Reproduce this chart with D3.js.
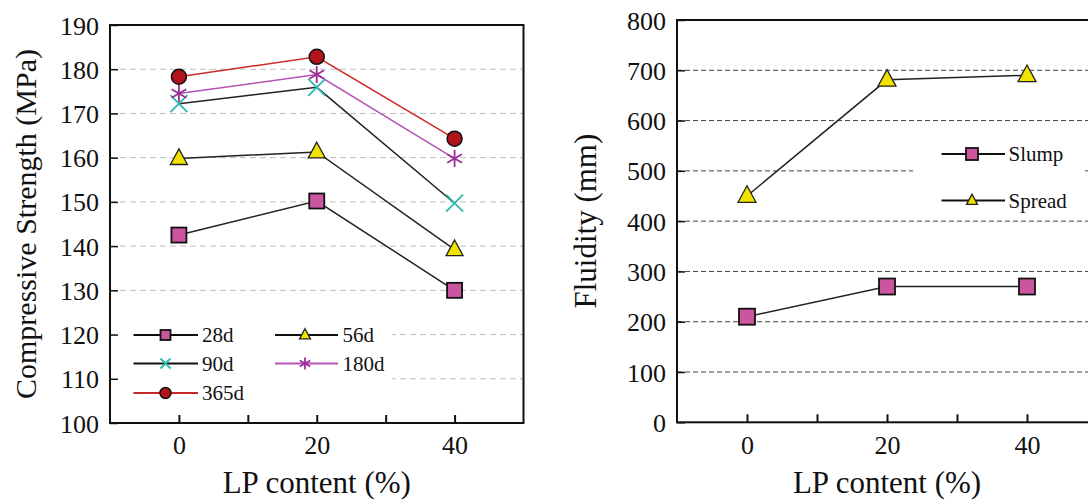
<!DOCTYPE html>
<html>
<head>
<meta charset="utf-8">
<script src="https://cdn.jsdelivr.net/npm/d3@7"></script>
<style>
  html, body { margin: 0; padding: 0; background: #fff; }
  svg { display: block; }
</style>
</head>
<body>
<svg id="chart" width="1088" height="499"></svg>
<script>
// ---------- DATA ----------
const lpContent = [0, 20, 40];
const xTicks = [0, 10, 20, 30, 40];
const xTickLabels = [0, 20, 40];

const strengthTicks = [100, 110, 120, 130, 140, 150, 160, 170, 180, 190];
const strengthGrid = [110, 120, 130, 140, 150, 160, 170, 180];
const ages = ["28d", "56d", "90d", "180d", "365d"];
const cs28 = [142.5, 150.2, 130.0];
const cs56 = [159.8, 161.3, 139.2];
const cs90 = [172.2, 175.9, 149.7];
const cs180 = [174.5, 178.8, 159.8];
const cs365 = [178.3, 182.8, 164.3];

const fluidityTicks = [0, 100, 200, 300, 400, 500, 600, 700, 800];
const fluidityGrid = [100, 200, 300, 400, 500, 600, 700];
const fluidNames = ["Slump", "Spread"];
const slump = [210, 270, 270];
const spread = [450, 681, 690];

// ---------- SETUP ----------
const SERIF = "Liberation Serif";
const svg = d3.select("#chart");
const FONT_TICK = 26, FONT_TITLE = 31, FONT_LEG = 21;

function txt(sel) {
  return sel.attr("font-family", SERIF).style("font-family", `'${SERIF}'`).attr("fill", "#111");
}

const sym = {
  square: (g, s, fill) => g.append("rect").attr("x", -s/2).attr("y", -s/2).attr("width", s).attr("height", s)
      .attr("fill", fill).attr("stroke", "#111").attr("stroke-width", 1.8),
  triangle: (g, s, fill) => {
    const h = s * 0.92;
    g.append("path").attr("d", `M0,${-h*0.62}L${s/2},${h*0.38}L${-s/2},${h*0.38}Z`)
      .attr("fill", fill).attr("stroke", "#222").attr("stroke-width", 1.3);
  },
  circle: (g, s, fill) => g.append("circle").attr("r", s/2).attr("fill", fill).attr("stroke", "#111").attr("stroke-width", 1.5),
  cross: (g, s, fill) => {
    const r = s/2;
    g.append("path").attr("d", `M${-r},${-r}L${r},${r}M${-r},${r}L${r},${-r}`)
      .attr("stroke", fill).attr("stroke-width", 1.8).attr("fill", "none");
  },
  asterisk: (g, s, fill) => {
    const r = s/2, a = r * Math.cos(Math.PI/6), b = r * 0.5;
    g.append("path").attr("d", `M0,${-r}L0,${r}M${-a},${-b}L${a},${b}M${-a},${b}L${a},${-b}`)
      .attr("stroke", fill).attr("stroke-width", 1.8).attr("fill", "none");
  }
};

function drawGrid(g, y, gridVals, gridColor, gridDash, frame) {
  g.append("g").selectAll("line").data(gridVals).join("line")
    .attr("x1", frame.x0).attr("x2", frame.x1)
    .attr("y1", d => y(d)).attr("y2", d => y(d))
    .attr("stroke", gridColor).attr("stroke-width", 1).attr("stroke-dasharray", gridDash);
}

function finishAxes(g, x, y, yTicks, frame) {
  const xa = g.append("g").attr("transform", `translate(0,${frame.y1})`)
    .call(d3.axisBottom(x).tickValues(xTicks).tickSize(-8).tickPadding(13)
      .tickFormat(d => xTickLabels.includes(d) ? d : ""));
  xa.select(".domain").remove();
  xa.selectAll("line").attr("stroke", "#111").attr("stroke-width", 2);
  txt(xa.selectAll("text")).attr("font-size", FONT_TICK);

  const ya = g.append("g").attr("transform", `translate(${frame.x0},0)`)
    .call(d3.axisLeft(y).tickValues(yTicks).tickSize(-8).tickPadding(11));
  ya.select(".domain").remove();
  ya.selectAll("line").attr("stroke", "#111").attr("stroke-width", 1.5);
  txt(ya.selectAll("text")).attr("font-size", FONT_TICK).attr("dy", "0.35em");

  g.append("rect").attr("x", frame.x0).attr("y", frame.y0)
    .attr("width", frame.x1 - frame.x0).attr("height", frame.y1 - frame.y0)
    .attr("fill", "none").attr("stroke", "#111").attr("stroke-width", 2);
}

const lineGen = (x, y) => d3.line().x((d, i) => x(lpContent[i])).y(d => y(d));

// ---------- LEFT CHART ----------
const L = { x0: 110, x1: 523.5, y0: 25, y1: 423 };
const xL = d3.scaleLinear().domain([-10, 50]).range([L.x0, L.x1]);
const yL = d3.scaleLinear().domain([100, 190]).range([L.y1, L.y0]);
const gL = svg.append("g");
drawGrid(gL, yL, strengthGrid, "#bdbdbd", "6,4", L);

const seriesL = [
  { name: ages[0], vals: cs28, line: "#222", mk: "square", fill: "#cc559f", size: 15, lsize: 10, lline: "#111" },
  { name: ages[1], vals: cs56, line: "#222", mk: "triangle", fill: "#f2e200", size: 17, lsize: 11, lline: "#111" },
  { name: ages[2], vals: cs90, line: "#222", mk: "cross", fill: "#2db8b0", size: 17, lsize: 10, lline: "#111" },
  { name: ages[3], vals: cs180, line: "#b552b5", mk: "asterisk", fill: "#9b2f98", size: 17, lsize: 12, lline: "#b552b5" },
  { name: ages[4], vals: cs365, line: "#d02a2a", mk: "circle", fill: "#b3141c", size: 15, lsize: 11, lline: "#c8282a" }
];

seriesL.forEach(s => {
  gL.append("path").datum(s.vals).attr("d", lineGen(xL, yL))
    .attr("fill", "none").attr("stroke", s.line).attr("stroke-width", 1.5);
});
seriesL.forEach(s => {
  s.vals.forEach((v, i) => {
    const g = gL.append("g").attr("transform", `translate(${xL(lpContent[i])},${yL(v)})`);
    sym[s.mk](g, s.size, s.fill);
  });
});

// legend left
gL.append("rect").attr("x", L.x0 + 2).attr("y", 316).attr("width", 392 - L.x0 - 2).attr("height", 94).attr("fill", "#fff");
const legPos = [
  { lx0: 133.5, lx1: 198, mx: 165.5, tx: 202, y: 335 },
  { lx0: 275, lx1: 338, mx: 305, tx: 342.5, y: 335 },
  { lx0: 133.5, lx1: 198, mx: 165.5, tx: 202, y: 363.5 },
  { lx0: 275, lx1: 338, mx: 305, tx: 342.5, y: 363.5 },
  { lx0: 133.5, lx1: 198, mx: 165.5, tx: 202, y: 393 }
];
seriesL.forEach((s, i) => {
  const p = legPos[i];
  gL.append("line").attr("x1", p.lx0).attr("x2", p.lx1).attr("y1", p.y).attr("y2", p.y)
    .attr("stroke", s.lline).attr("stroke-width", 2);
  const g = gL.append("g").attr("transform", `translate(${p.mx},${p.y})`);
  sym[s.mk](g, s.lsize, s.fill);
  txt(gL.append("text")).attr("x", p.tx).attr("y", p.y).attr("dy", "0.35em")
    .attr("font-size", FONT_LEG).text(s.name);
});

finishAxes(gL, xL, yL, strengthTicks, L);

txt(gL.append("text")).attr("transform", `translate(36,${(L.y0 + L.y1) / 2}) rotate(-90)`)
  .attr("text-anchor", "middle").attr("font-size", 30)
  .text("Compressive Strength (MPa)");
txt(gL.append("text")).attr("x", xL(20)).attr("y", 493).attr("text-anchor", "middle")
  .attr("font-size", FONT_TITLE).text("LP content (%)");

// ---------- RIGHT CHART ----------
const R = { x0: 677, x1: 1097, y0: 20, y1: 422.3 };
const xR = d3.scaleLinear().domain([-10, 50]).range([R.x0, R.x1]);
const yR = d3.scaleLinear().domain([0, 800]).range([R.y1, R.y0]);
const gR = svg.append("g");
drawGrid(gR, yR, fluidityGrid, "#444", "5,3", R);

const seriesR = [
  { name: fluidNames[0], vals: slump, mk: "square", fill: "#cc559f", size: 16, lsize: 12 },
  { name: fluidNames[1], vals: spread, mk: "triangle", fill: "#f2e200", size: 18, lsize: 11 }
];
seriesR.forEach(s => {
  gR.append("path").datum(s.vals).attr("d", lineGen(xR, yR))
    .attr("fill", "none").attr("stroke", "#222").attr("stroke-width", 1.5);
});
seriesR.forEach(s => {
  s.vals.forEach((v, i) => {
    const g = gR.append("g").attr("transform", `translate(${xR(lpContent[i])},${yR(v)})`);
    sym[s.mk](g, s.size, s.fill);
  });
});

// legend right
gR.append("rect").attr("x", 913).attr("y", 128).attr("width", 172).attr("height", 88).attr("fill", "#fff");
const legR = [
  { lx0: 941.5, lx1: 1005, mx: 972, tx: 1008.5, y: 154 },
  { lx0: 941.5, lx1: 1005, mx: 972, tx: 1008.5, y: 200.5 }
];
seriesR.forEach((s, i) => {
  const p = legR[i];
  gR.append("line").attr("x1", p.lx0).attr("x2", p.lx1).attr("y1", p.y).attr("y2", p.y)
    .attr("stroke", "#111").attr("stroke-width", 2);
  const g = gR.append("g").attr("transform", `translate(${p.mx},${p.y})`);
  sym[s.mk](g, s.lsize, s.fill);
  txt(gR.append("text")).attr("x", p.tx).attr("y", p.y).attr("dy", "0.35em")
    .attr("font-size", FONT_LEG).text(s.name);
});

finishAxes(gR, xR, yR, fluidityTicks, R);

txt(gR.append("text")).attr("transform", `translate(596,${(R.y0 + R.y1) / 2}) rotate(-90)`)
  .attr("text-anchor", "middle").attr("font-size", FONT_TITLE)
  .text("Fluidity (mm)");
txt(gR.append("text")).attr("x", xR(20)).attr("y", 493).attr("text-anchor", "middle")
  .attr("font-size", FONT_TITLE).text("LP content (%)");
</script>
</body>
</html>
